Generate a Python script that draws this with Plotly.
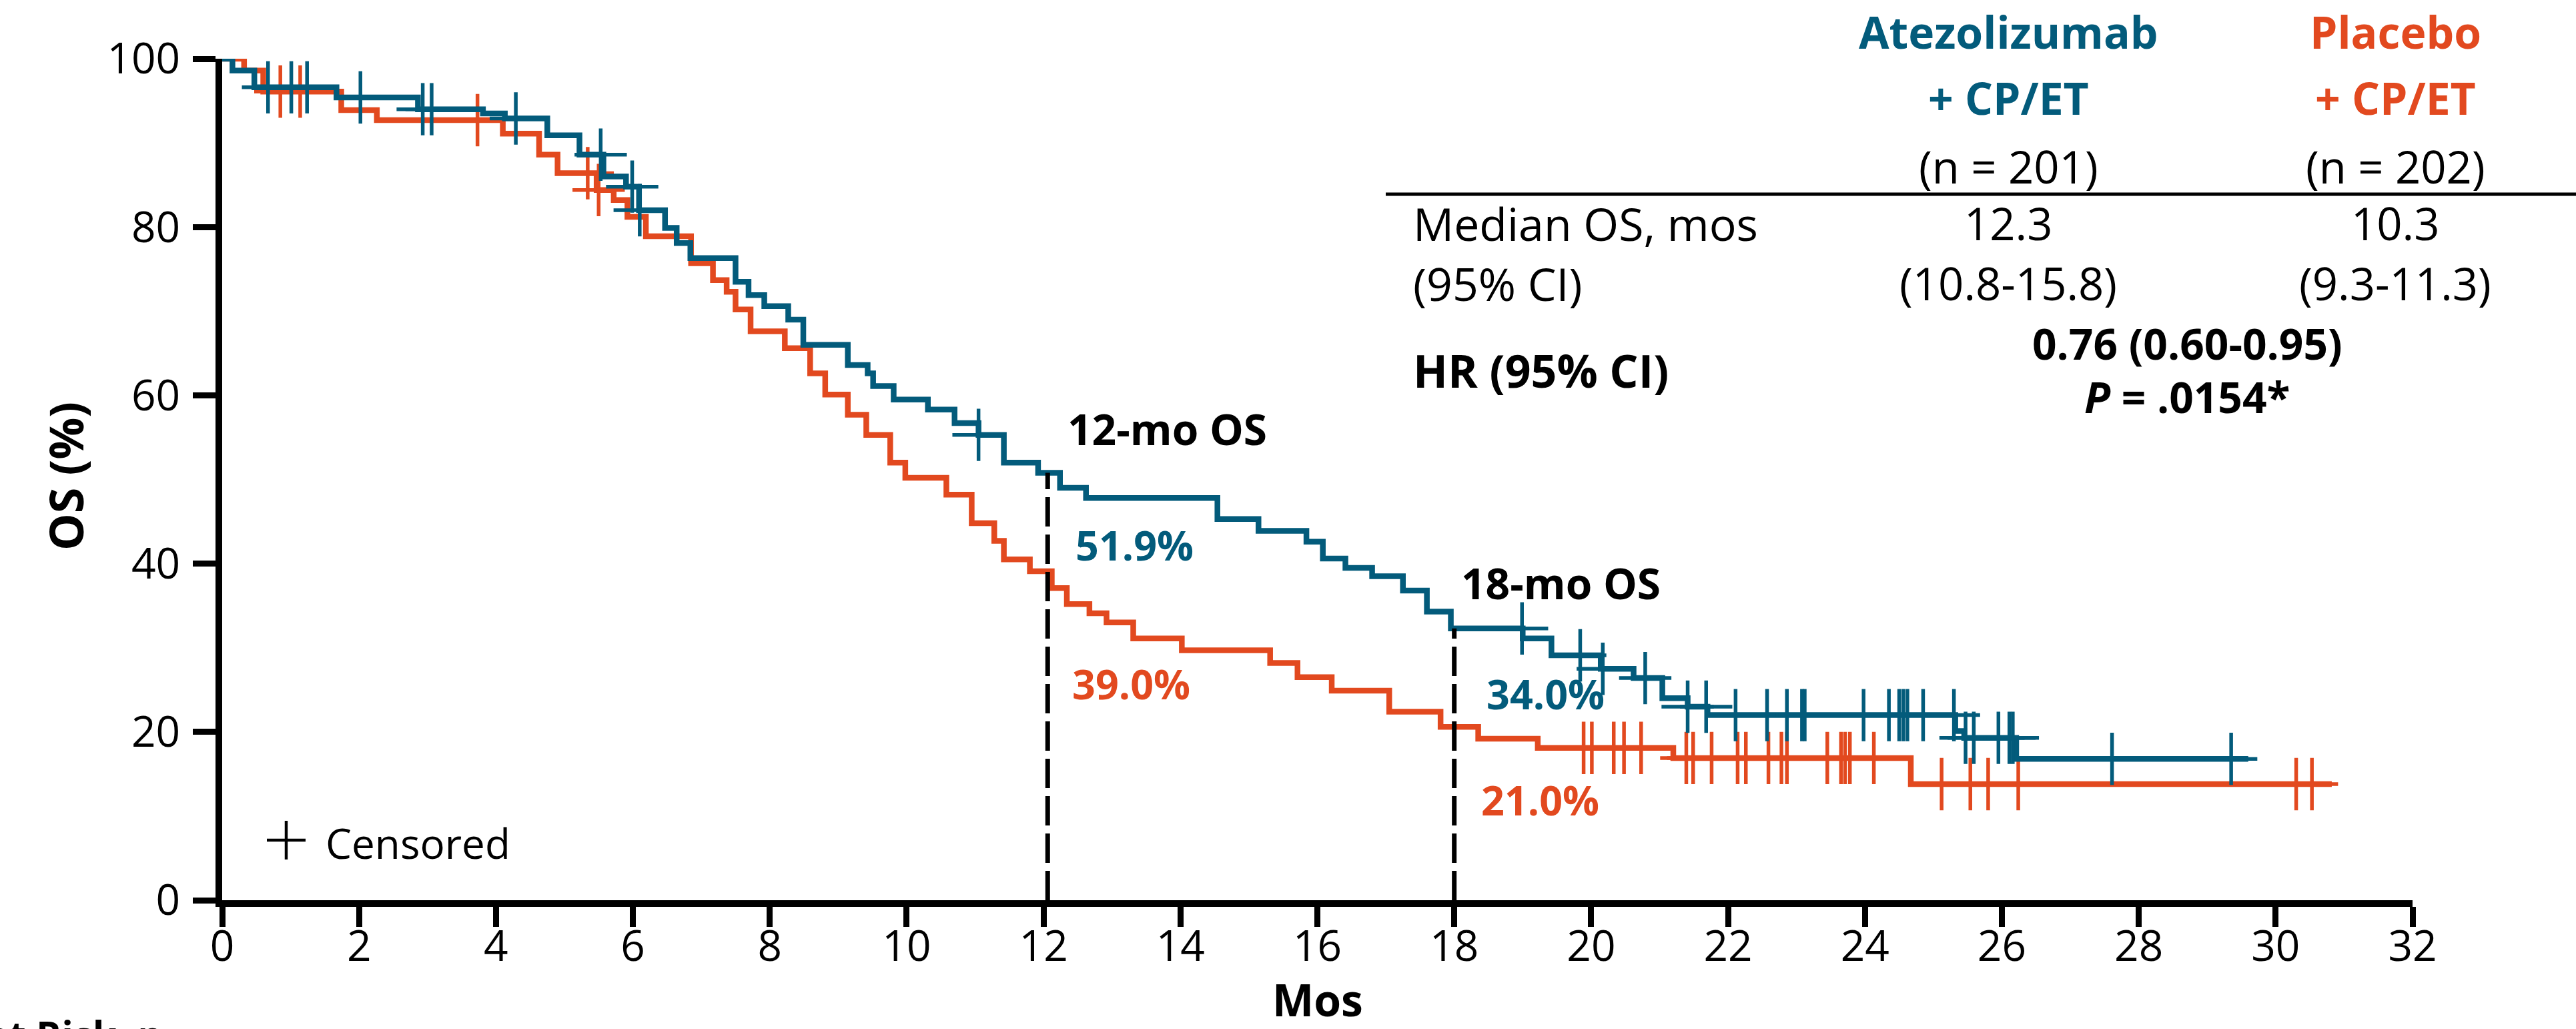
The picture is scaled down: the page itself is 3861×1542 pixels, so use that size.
import bisect
import plotly.graph_objects as go

# ---------------- data ----------------
atezo_t = [0, 0.15, 0.47, 1.67, 2.86, 3.81, 4.13, 4.75, 5.22, 5.57, 5.90, 6.09, 6.47, 6.64, 6.84,
           7.50, 7.69, 7.92, 8.27, 8.49, 9.14, 9.43, 9.51, 9.81, 10.31, 10.70, 11.05, 11.42, 11.92,
           12.24, 12.62, 14.54, 15.14, 15.84, 16.08, 16.41, 16.80, 17.25, 17.60, 17.95, 19.00, 19.42,
           20.14, 20.62, 21.04, 21.41, 21.70, 25.32, 25.45, 26.21]
atezo_s = [100, 98.6, 96.6, 95.4, 94.0, 93.5, 92.9, 90.9, 88.6, 86.0, 84.8, 82.0, 79.9, 78.1, 76.3,
           73.5, 71.9, 70.6, 69.0, 66.0, 63.6, 62.6, 61.1, 59.5, 58.3, 56.7, 55.3, 52.0, 50.8,
           49.0, 47.8, 45.3, 43.9, 42.6, 40.6, 39.5, 38.5, 36.8, 34.3, 32.3, 31.1, 29.1,
           27.5, 26.4, 24.0, 23.0, 22.0, 20.1, 19.3, 16.8]
atezo_end = 29.6
atezo_cens = [0.67, 1.01, 1.24, 2.02, 2.93, 3.06, 4.29, 5.53, 5.99, 6.10, 11.05, 18.99, 19.84, 20.17,
              20.79, 21.41, 21.68, 22.11, 22.57, 22.86, 23.08, 23.12, 23.98, 24.35, 24.50, 24.56,
              24.62, 24.85, 25.30, 25.47, 25.59, 25.95, 26.11, 26.16, 27.61, 29.35]

plac_t = [0, 0.32, 0.60, 1.74, 2.26, 4.10, 4.63, 4.90, 5.47, 5.72, 5.92, 6.19, 6.85, 7.17, 7.37,
          7.50, 7.72, 8.22, 8.59, 8.81, 9.14, 9.41, 9.76, 9.98, 10.58, 10.95, 11.28, 11.42, 11.80,
          12.12, 12.34, 12.67, 12.92, 13.31, 14.02, 15.31, 15.71, 16.21, 17.05, 17.80, 18.35,
          19.22, 21.20, 24.67]
plac_s = [100, 98.6, 96.1, 93.9, 92.7, 91.1, 88.6, 86.4, 84.4, 83.2, 81.2, 78.9, 75.7, 73.7, 72.3,
          70.2, 67.6, 65.6, 62.6, 60.1, 57.7, 55.3, 52.0, 50.2, 48.2, 44.8, 42.7, 40.5, 39.1,
          37.1, 35.2, 34.1, 33.0, 31.1, 29.7, 28.2, 26.5, 24.9, 22.4, 20.6, 19.2,
          18.1, 16.9, 13.8]
plac_end = 30.82
plac_cens = [0.85, 1.14, 3.73, 5.34, 5.50, 19.89, 20.01, 20.33, 20.48, 20.73, 21.39, 21.49, 21.76,
             22.14, 22.26, 22.59, 22.78, 22.86, 23.45, 23.65, 23.71, 23.78, 24.13, 25.12, 25.54,
             25.80, 26.24, 30.30, 30.53]

landmark_months = [12.06, 18.0]
landmark_labels = ["12-mo OS", "18-mo OS"]
atezo_landmark_pct = ["51.9%", "34.0%"]
plac_landmark_pct = ["39.0%", "21.0%"]

x_ticks = list(range(0, 33, 2))
y_ticks = [0, 20, 40, 60, 80, 100]

arm_names = ["Atezolizumab", "Placebo"]
arm_n = ["(n = 201)", "(n = 202)"]
median_os = ["12.3", "10.3"]
median_ci = ["(10.8-15.8)", "(9.3-11.3)"]
hr_text = "0.76 (0.60-0.95)"
p_text = "<i>P</i> = .0154*"

# ---------------- styling ----------------
TEAL = "#035B7B"
ORANGE = "#E2491F"
FONT = "Open Sans"
W, H = 3861, 1542
L, R, T, B = 333, 3616, 88, 1349


def paper(X, Y):
    return (X - L) / (R - L), (B - Y) / (B - T)


def surv_at(ts, ss, t):
    i = bisect.bisect_right(ts, t) - 1
    return ss[max(i, 0)]


fig = go.Figure()

for ts, ss, end, cens, col in [(plac_t, plac_s, plac_end, plac_cens, ORANGE),
                               (atezo_t, atezo_s, atezo_end, atezo_cens, TEAL)]:
    fig.add_trace(go.Scatter(x=ts + [end], y=ss + [ss[-1]], mode="lines",
                             line=dict(color=col, width=8.5, shape="hv"),
                             hoverinfo="skip", showlegend=False))
    fig.add_trace(go.Scatter(x=cens, y=[surv_at(ts, ss, c) for c in cens], mode="markers",
                             marker=dict(symbol="cross-thin", size=56,
                                         line=dict(color=col, width=5.5)),
                             cliponaxis=False, hoverinfo="skip", showlegend=False))

# landmark dashed lines (up to the atezolizumab curve)
for m in landmark_months:
    fig.add_shape(type="line", xref="x", yref="y", x0=m, x1=m, y0=0,
                  y1=surv_at(atezo_t, atezo_s, m),
                  line=dict(color="black", width=7, dash="44px,12px"), layer="above")


def ann(text, X, Y, size, color="black", bold=False, xanchor="center", angle=0):
    xp, yp = paper(X, Y)
    fig.add_annotation(x=xp, y=yp, xref="paper", yref="paper",
                       text=("<b>%s</b>" % text) if bold else text,
                       showarrow=False, xanchor=xanchor, yanchor="middle", textangle=angle,
                       font=dict(family=FONT, size=size, color=color))


# landmark labels
ann(landmark_labels[0], 1598, 642, 64, bold=True, xanchor="left")
ann(atezo_landmark_pct[0], 1610, 817, 61, TEAL, bold=True, xanchor="left")
ann(plac_landmark_pct[0], 1605, 1024, 61, ORANGE, bold=True, xanchor="left")
ann(landmark_labels[1], 2188, 873, 64, bold=True, xanchor="left")
ann(atezo_landmark_pct[1], 2226, 1039, 61, TEAL, bold=True, xanchor="left")
ann(plac_landmark_pct[1], 2218, 1198, 61, ORANGE, bold=True, xanchor="left")

# table
colx = [3010, 3590]
cols = [TEAL, ORANGE]
for i in range(2):
    ann(arm_names[i], colx[i], 47, 66, cols[i], bold=True)
    ann("+ CP/ET", colx[i], 146, 66, cols[i], bold=True)
    ann(arm_n[i], colx[i], 249, 67)
    ann(median_os[i], colx[i], 334, 67)
    ann(median_ci[i], colx[i], 424, 67)
ann("Median OS, mos", 2116, 334, 68, xanchor="left")
ann("(95% CI)", 2116, 424, 68, xanchor="left")
ann("HR (95% CI)", 2116, 554, 68, bold=True, xanchor="left")
ann(hr_text, 3278, 514, 64, bold=True)
ann(p_text, 3278, 594, 64, bold=True)
x0p, yl = paper(2077, 291)
x1p, _ = paper(3861, 291)
fig.add_shape(type="line", xref="paper", yref="paper", x0=x0p, x1=x1p, y0=yl, y1=yl,
              line=dict(color="black", width=5))

# censored legend
for (a, b, c, d) in [(400, 1259, 458, 1259), (429, 1230, 429, 1288)]:
    p0 = paper(a, b)
    p1 = paper(c, d)
    fig.add_shape(type="line", xref="paper", yref="paper", x0=p0[0], y0=p0[1], x1=p1[0], y1=p1[1],
                  line=dict(color="black", width=4.5))
ann("Censored", 486, 1263, 62, xanchor="left")

# axis titles and cut-off risk table header
ann("Mos", 1975, 1497, 66, bold=True)
ann("OS (%)", 98, 714, 70, bold=True, angle=-90)
ann("No. at Risk, n", 246, 1550, 58, bold=True, xanchor="right")

axis_common = dict(showline=True, linewidth=10, linecolor="black", ticks="outside",
                   tickwidth=9, tickcolor="black", showgrid=False, zeroline=False,
                   tickfont=dict(family=FONT, size=64, color="black"))
fig.update_xaxes(range=[0, 32], tickvals=x_ticks, ticklen=30, ticklabelstandoff=-26,
                 **axis_common)
fig.update_yaxes(range=[0, 100], tickvals=y_ticks, ticklen=34, ticklabelstandoff=6, **axis_common)

fig.update_layout(width=W, height=H, margin=dict(l=L, r=W - R, t=T, b=H - B),
                  paper_bgcolor="white", plot_bgcolor="white",
                  font=dict(family=FONT, color="black"), showlegend=False)

fig.write_html("out.html")
